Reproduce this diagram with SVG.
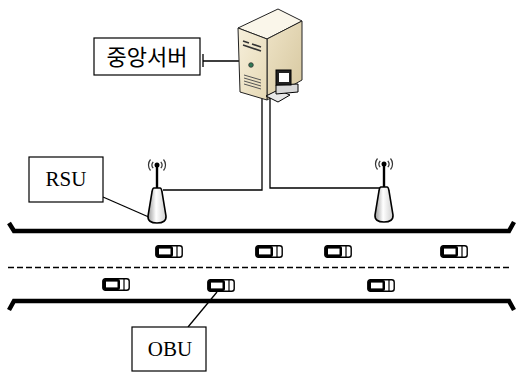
<svg xmlns="http://www.w3.org/2000/svg" width="516" height="373" viewBox="0 0 516 373">
  <style>
    .box { fill: #fff; stroke: #000; stroke-width: 1.2; }
    .lbl-ko { font-family: "Noto Sans CJK KR", "Noto Sans", sans-serif; font-size: 22px; fill: #000; }
    .lbl { font-family: "Liberation Serif", serif; font-size: 21px; fill: #000; }
    .wire { fill: none; stroke: #000; stroke-width: 1.3; }
    .road { fill: none; stroke: #000; stroke-width: 4.5; stroke-linejoin: miter; }
    .lane { fill: none; stroke: #000; stroke-width: 1.5; stroke-dasharray: 6 3; }
    .wave { fill: none; stroke: #333; stroke-width: 1.2; }
  </style>
  <defs>
    <linearGradient id="antBody" x1="0" y1="0" x2="1" y2="0">
      <stop offset="0" stop-color="#9a9a9a"/>
      <stop offset="0.45" stop-color="#ffffff"/>
      <stop offset="1" stop-color="#cfcfcf"/>
    </linearGradient>
    <linearGradient id="front" x1="0" y1="0" x2="1" y2="1">
      <stop offset="0" stop-color="#f6efdb"/>
      <stop offset="1" stop-color="#e6d9b5"/>
    </linearGradient>
    <linearGradient id="side" x1="0" y1="0" x2="1" y2="1">
      <stop offset="0" stop-color="#eee3c6"/>
      <stop offset="1" stop-color="#d6c79f"/>
    </linearGradient>
    <!-- radio mast -->
    <g id="antenna">
      <path d="M-6.5,-5.5 A8.5,8.5 0 0 0 -6.5,5.5 M6.5,-5.5 A8.5,8.5 0 0 1 6.5,5.5" class="wave"/>
      <path d="M-3.8,-3.2 A5,5 0 0 0 -3.8,3.2 M3.8,-3.2 A5,5 0 0 1 3.8,3.2" class="wave"/>
      <line x1="0" y1="0" x2="0" y2="23" stroke="#000" stroke-width="2.4"/>
      <circle cx="0" cy="0" r="2.5" fill="#000"/>
      <path d="M-3,23 L3,23 Q4.5,23 5,27 L9,51 Q9.5,58 0,58 Q-9.5,58 -9,51 L-5,27 Q-4.5,23 -3,23 Z" fill="url(#antBody)" stroke="#000" stroke-width="1.6"/>
    </g>
    <!-- vehicle, top view -->
    <g id="car">
      <rect x="0.8" y="0.8" width="26.4" height="11.4" rx="2.5" fill="#fff" stroke="#000" stroke-width="1.4"/>
      <rect x="1" y="1" width="17" height="11" rx="2" fill="#000"/>
      <rect x="4" y="3.6" width="11.5" height="5.8" fill="#fff"/>
      <line x1="22" y1="1" x2="22" y2="12" stroke="#000" stroke-width="1.2"/>
    </g>
  </defs>

  <rect width="516" height="373" fill="#fff"/>

  <!-- road -->
  <g id="road">
    <path class="road" d="M9,223 L14,231 H509 L514,222"/>
    <path class="road" d="M9,310 L14,301 H509 L514,310"/>
    <path class="lane" d="M8,267.5 H510"/>
  </g>

  <!-- connectors -->
  <g id="connectors">
    <path class="wire" d="M203,61 H239 M203,54 V67"/>
    <path class="wire" d="M262,96 V190 H163"/>
    <path class="wire" d="M270,96 V188 H380"/>
    <path class="wire" d="M103,197 L151,218"/>
    <path class="wire" d="M188,327 L217,292"/>
  </g>

  <!-- central server -->
  <g id="server">
    <polygon points="238,28 278,9 302,21 267,39" fill="#faf6ea" stroke="#222" stroke-width="1"/>
    <polygon points="267,39 302,21 302,80 267,100" fill="url(#side)" stroke="#222" stroke-width="1"/>
    <polygon points="238,28 267,39 267,100 240,92" fill="url(#front)" stroke="#222" stroke-width="1"/>
    <g stroke="#333" stroke-width="1.6">
      <line x1="243" y1="41" x2="249" y2="43"/>
      <line x1="243" y1="45" x2="261" y2="51"/>
      <line x1="252" y1="44" x2="261" y2="47"/>
    </g>
    <circle cx="251" cy="65" r="2.3" fill="#2f7a55" stroke="#333" stroke-width="0.8"/>
    <g stroke="#555" stroke-width="1">
      <line x1="244" y1="75" x2="261" y2="80"/>
      <line x1="244" y1="78" x2="261" y2="83"/>
      <line x1="244" y1="81" x2="261" y2="86"/>
      <line x1="244" y1="84" x2="261" y2="89"/>
    </g>
    <!-- workstation -->
    <polygon points="266,96 278,90 290,95 278,102" fill="#e8e8e8" stroke="#000" stroke-width="1"/>
    <polygon points="276,85 298,84 298,92 276,94" fill="#d8d8d8" stroke="#000" stroke-width="1"/>
    <rect x="276" y="70" width="15" height="15" fill="#222" stroke="#000"/>
    <rect x="279" y="73" width="10" height="9" fill="#fff"/>
  </g>

  <g id="n-server-label">
    <rect class="box" x="94" y="38" width="106" height="37"/>
    <text class="lbl-ko" x="147" y="64.5" text-anchor="middle">중앙서버</text>
  </g>

  <g id="n-rsu-left">
    <use href="#antenna" x="157" y="165"/>
  </g>
  <g id="n-rsu-right">
    <use href="#antenna" x="384" y="164"/>
  </g>

  <g id="n-rsu-label">
    <rect class="box" x="29" y="157" width="74" height="45"/>
    <text class="lbl" x="66" y="186" text-anchor="middle">RSU</text>
  </g>

  <g id="vehicles">
    <use href="#car" x="155" y="245"/>
    <use href="#car" x="255" y="245"/>
    <use href="#car" x="324" y="245"/>
    <use href="#car" x="440" y="245"/>
    <use href="#car" x="102" y="278"/>
    <use href="#car" x="207" y="279"/>
    <use href="#car" x="367" y="279"/>
  </g>

  <g id="n-obu-label">
    <rect class="box" x="132" y="327" width="74" height="44"/>
    <text class="lbl" x="170" y="356" text-anchor="middle">OBU</text>
  </g>
</svg>
